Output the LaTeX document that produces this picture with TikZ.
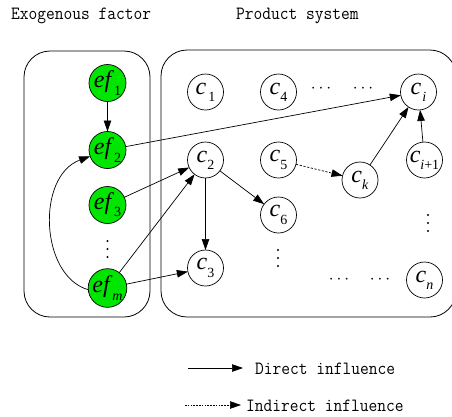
\documentclass[tikz,border=0pt]{standalone}
\usepackage{fontspec}
\setmainfont{Liberation Serif}
\usetikzlibrary{arrows.meta}
\definecolor{efgreen}{RGB}{0,230,0}
\newcommand\lab[2]{\fontsize{24}{24}\selectfont\textit{#1}\raisebox{-0.3em}{\fontsize{14}{14}\selectfont #2}}
\begin{document}
\begin{tikzpicture}[x=1pt,y=-1pt,
  every node/.style={inner sep=0pt,outer sep=0pt},
  cnode/.style={circle,draw,line width=0.7pt,minimum size=36pt,fill=white},
  efnode/.style={cnode,fill=efgreen,minimum size=37pt},
  frame/.style={draw,line width=0.8pt,rounded corners=26pt},
  conn/.style={line width=0.7pt,-{Triangle[length=11pt,width=7.5pt]}},
  dconn/.style={conn,dash pattern=on 2.2pt off 1.6pt},
  mtext/.style={font=\ttfamily\fontsize{17}{17}\selectfont,anchor=west},
  dotsh/.style={font=\fontsize{17}{17}\selectfont},
  vdot/.style={fill,circle,minimum size=2.2pt}]
\useasboundingbox (0,0) rectangle (452,416);
\begin{scope}
\clip (0,0) rectangle (452,416);
\draw[frame] (24,51) rectangle (150,317);
\draw[frame] (161,50) rectangle (456,317);
\end{scope}
\node[mtext] (t1) at (11,16) {\scalebox{1}[1.1]{Exogenous factor}};
\node[mtext] (t2) at (236,16) {\scalebox{1}[1.1]{Product system}};
% exogenous
\node[efnode] (ef1) at (107.5,83) {\lab{ef}{1}};
\node[efnode] (ef2) at (107.5,150) {\lab{ef}{2}};
\node[efnode] (ef3) at (107.5,205) {\lab{ef}{3}};
\node[vdot] (efd1) at (107.5,241) {};
\node[vdot] (efd2) at (107.5,249) {};
\node[vdot] (efd3) at (107.5,257) {};
\node[efnode] (efm) at (107.5,288) {\lab{ef}{\textit{m}}};
% product system
\node[cnode] (c1) at (205.5,92) {\lab{c}{\hspace{2pt}1}};
\node[cnode] (c4) at (278.5,92) {\lab{c}{4}};
\node[dotsh] (d1) at (321,89) {$\cdots$};
\node[dotsh] (d2) at (363,89) {$\cdots$};
\node[cnode] (ci) at (418.5,92) {\lab{c}{\hspace{1pt}\textit{i}}};
\node[cnode] (c2) at (205.5,160) {\lab{c}{2}};
\node[cnode] (c5) at (278.5,160) {\lab{c}{5}};
\node[cnode] (ck) at (360,180) {\lab{c}{\textit{k}}};
\node[cnode] (cip) at (424.5,160) {\lab{c}{\textit{i}+1}};
\node[cnode] (c6) at (278.5,215) {\lab{c}{6}};
\node[vdot] (vd11) at (428,215) {};
\node[vdot] (vd12) at (428,223) {};
\node[vdot] (vd13) at (428,231) {};
\node[vdot] (vd21) at (278,250) {};
\node[vdot] (vd22) at (278,258) {};
\node[vdot] (vd23) at (278,266) {};
\node[cnode] (c3) at (205.5,268) {\lab{c}{3}};
\node[dotsh] (d3) at (339,280) {$\cdots$};
\node[dotsh] (d4) at (380,280) {$\cdots$};
\node[cnode] (cn) at (424.5,280) {\lab{c}{\textit{n}}};
% connectors
\draw[conn] (ef1) -- (ef2);
\draw[conn] (efm.185) .. controls (40,276) and (36,176) .. (ef2.200);
\draw[conn] (ef2) -- (ci);
\draw[conn] (ef3) -- (c2);
\draw[conn] (efm) -- (c2);
\draw[conn] (efm) -- (c3);
\draw[conn] (c2) -- (c6);
\draw[conn] (c2) -- (c3);
\draw[dconn] (c5) -- (ck);
\draw[conn] (ck) -- (ci);
\draw[conn] (cip) -- (ci);
% legend
\coordinate (l1a) at (188,368);
\coordinate (l1b) at (243,368);
\coordinate (l2a) at (185,405);
\coordinate (l2b) at (241,405);
\draw[conn] (l1a) -- (l1b);
\draw[dconn,line width=0.6pt,dash pattern=on 1.6pt off 1.2pt] (l2a) -- (l2b);
\node[mtext] (lt1) at (255,369) {\scalebox{1}[1.1]{Direct influence}};
\node[mtext] (lt2) at (246,406) {\scalebox{1}[1.1]{Indirect influence}};
\end{tikzpicture}
\end{document}
